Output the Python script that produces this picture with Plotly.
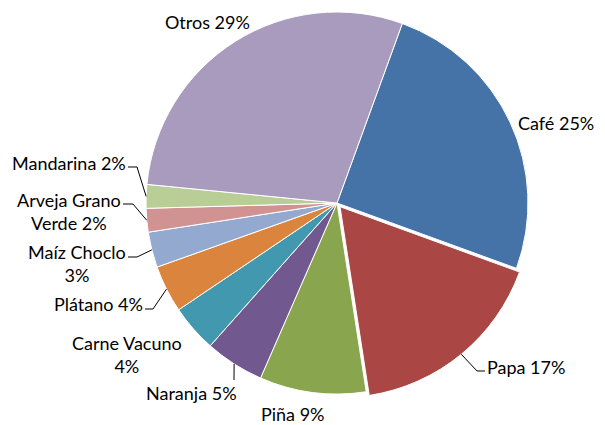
import math
import plotly.graph_objects as go

# ---- data ----
categories = ["Café", "Papa", "Piña", "Naranja", "Carne Vacuno", "Plátano",
              "Maíz Choclo", "Arveja Grano Verde", "Mandarina", "Otros"]
values = [25, 17, 9, 5, 4, 4, 3, 2, 2, 29]
label_texts = ["Café 25%", "Papa 17%", "Piña 9%", "Naranja 5%", "Carne Vacuno<br>4%",
               "Plátano 4%", "Maíz Choclo<br>3%", "Arveja Grano<br>Verde 2%",
               "Mandarina 2%", "Otros 29%"]

# ---- style / layout ----
colors = ["#4572A7", "#AA4643", "#89A54E", "#71588F", "#4198AF", "#DB843D",
          "#93A9CF", "#D19392", "#B9CD96", "#A99BBD"]
pulls = [0, 0.025, 0, 0, 0, 0, 0, 0, 0, 0]
W, H = 605, 425
CX, CY, R = 337, 203, 191
ROT = 20
FONT = dict(family="Lato, Calibri, Arial, sans-serif", size=18, color="#000000")

# label positions (pixels) and leader line elbow / end (pixels), None = no leader
label_pos = [(556, 123), (526, 367), (293, 414), (191, 393), (127, 354),
             (98, 304), (77, 263), (69, 211), (69, 163), (207, 22)]
leader = [None,
          [(477, 371), (485, 371)],
          None,
          [(234, 380)],
          None,
          [(153, 309), (145, 309)],
          [(137, 257), (128, 257)],
          [(133, 204), (123, 204)],
          [(137, 167), (128, 167)],
          None]

def px(x, y):
    return x / W, 1 - y / H

maxpull = max(pulls)
Rd = R * (1 + maxpull)
dom_x = [(CX - Rd) / W, (CX + Rd) / W]
dom_y = [(H - CY - Rd) / H, (H - CY + Rd) / H]

fig = go.Figure(go.Pie(
    labels=categories, values=values, sort=False, direction="clockwise",
    rotation=ROT, pull=pulls, textinfo="none", hoverinfo="label+percent",
    marker=dict(colors=colors, line=dict(color="#FFFFFF", width=1)),
    domain=dict(x=dom_x, y=dom_y), showlegend=False,
))

total = sum(values)
cum = 0
annotations = []
shapes = []
for i, v in enumerate(values):
    mid = ROT + 360 * (cum + v / 2) / total
    cum += v
    a = math.radians(mid)
    rr = R * (1 + pulls[i])
    ax_, ay_ = CX + rr * math.sin(a), CY - rr * math.cos(a)
    lx, ly = label_pos[i]
    x0, y0 = px(lx, ly)
    annotations.append(dict(x=x0, y=y0, xref="paper", yref="paper", text=label_texts[i],
                            showarrow=False, font=FONT, align="center",
                            xanchor="center", yanchor="middle"))
    if leader[i]:
        pts = [(ax_, ay_)] + leader[i]
        path = "M " + " L ".join(f"{px(x, y)[0]:.5f},{px(x, y)[1]:.5f}" for x, y in pts)
        shapes.append(dict(type="path", path=path, xref="paper", yref="paper",
                           line=dict(color="#000000", width=1)))

fig.update_layout(
    width=W, height=H, margin=dict(l=0, r=0, t=0, b=0),
    paper_bgcolor="#FFFFFF", plot_bgcolor="#FFFFFF",
    annotations=annotations, shapes=shapes,
)
fig.write_html("out.html", config={"displayModeBar": False},
               post_script="document.body.style.margin='0';document.body.style.overflow='hidden';")
